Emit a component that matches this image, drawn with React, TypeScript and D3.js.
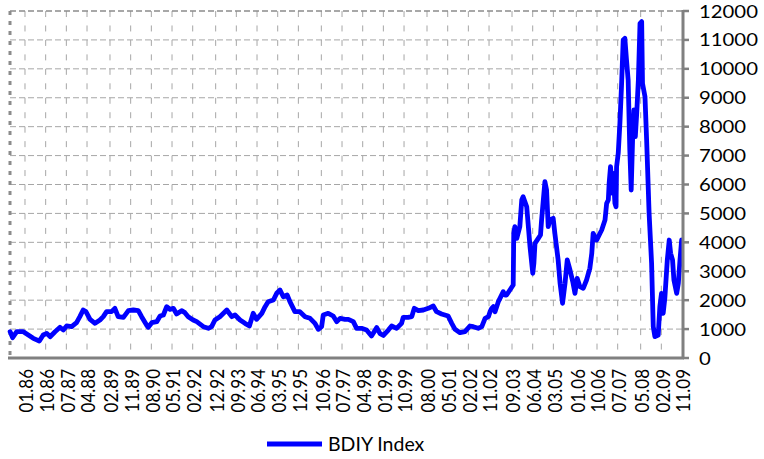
import React from "react";
import * as d3 from "d3";

// decimal year of each observation
const dates: number[] = [
  1985.46, 1985.55, 1985.70, 1985.94, 1986.12, 1986.30, 1986.52, 1986.66, 1986.79, 1986.91,
  1987.09, 1987.27, 1987.39, 1987.51, 1987.69, 1987.87, 1987.99, 1988.11, 1988.21, 1988.36,
  1988.54, 1988.72, 1988.84, 1988.96, 1989.14, 1989.26, 1989.38, 1989.57, 1989.75, 1989.93,
  1990.11, 1990.23, 1990.41, 1990.47, 1990.60, 1990.78, 1990.90, 1991.02, 1991.14, 1991.26,
  1991.38, 1991.50, 1991.68, 1991.80, 1991.92, 1992.10, 1992.23, 1992.47, 1992.65, 1992.77,
  1992.89, 1993.07, 1993.32, 1993.50, 1993.62, 1993.80, 1993.98, 1994.14, 1994.28, 1994.40,
  1994.59, 1994.71, 1994.82, 1995.01, 1995.13, 1995.25, 1995.37, 1995.51, 1995.61, 1995.79,
  1995.97, 1996.16, 1996.34, 1996.52, 1996.64, 1996.76, 1996.82, 1997.00, 1997.18, 1997.31,
  1997.43, 1997.61, 1997.73, 1997.91, 1998.03, 1998.21, 1998.39, 1998.57, 1998.76, 1998.88,
  1999.00, 1999.18, 1999.30, 1999.48, 1999.66, 1999.72, 1999.90, 2000.03, 2000.12, 2000.27,
  2000.45, 2000.63, 2000.81, 2000.93, 2001.11, 2001.35, 2001.48, 2001.60, 2001.78, 2001.96,
  2002.14, 2002.26, 2002.44, 2002.57, 2002.69, 2002.81, 2002.87, 2002.93, 2002.99, 2003.05,
  2003.17, 2003.23, 2003.35, 2003.41, 2003.47, 2003.59, 2003.71, 2003.73, 2003.77, 2003.84,
  2003.95, 2004.02, 2004.07, 2004.20, 2004.26, 2004.32, 2004.42, 2004.46, 2004.50, 2004.62,
  2004.70, 2004.74, 2004.86, 2004.92, 2004.98, 2005.04, 2005.16, 2005.22, 2005.34, 2005.41,
  2005.50, 2005.59, 2005.67, 2005.77, 2005.87, 2005.95, 2006.03, 2006.13, 2006.25, 2006.37,
  2006.49, 2006.56, 2006.61, 2006.74, 2006.86, 2006.92, 2007.04, 2007.10, 2007.16, 2007.19,
  2007.24, 2007.28, 2007.32, 2007.34, 2007.40, 2007.44, 2007.46, 2007.52, 2007.58, 2007.64,
  2007.70, 2007.76, 2007.82, 2007.88, 2007.94, 2007.99, 2008.04, 2008.09, 2008.14, 2008.19,
  2008.25, 2008.31, 2008.37, 2008.40, 2008.49, 2008.55, 2008.64, 2008.67, 2008.73, 2008.79,
  2008.85, 2008.97, 2009.03, 2009.09, 2009.15, 2009.21, 2009.30, 2009.37, 2009.42, 2009.49,
  2009.54, 2009.64, 2009.70, 2009.76, 2009.82,
];

// BDIY Index values
const values: number[] = [
  910, 703, 910, 910, 795, 680, 588, 795, 853, 737,
  910, 1061, 968, 1107, 1084, 1222, 1429, 1660, 1603, 1337,
  1199, 1314, 1429, 1603, 1603, 1718, 1429, 1406, 1637, 1660,
  1637, 1429, 1141, 1061, 1222, 1256, 1452, 1487, 1776, 1683,
  1718, 1522, 1637, 1568, 1429, 1314, 1256, 1084, 1026, 1084,
  1314, 1429, 1660, 1429, 1487, 1314, 1199, 1107, 1545, 1337,
  1545, 1776, 1948, 2006, 2237, 2351, 2120, 2178, 1948, 1602,
  1602, 1429, 1372, 1199, 992, 1084, 1487, 1545, 1452, 1256,
  1372, 1337, 1337, 1256, 1026, 1026, 968, 761, 1050, 840,
  780, 968, 1107, 1026, 1199, 1406, 1406, 1429, 1718, 1637,
  1660, 1718, 1798, 1602, 1522, 1452, 1199, 992, 876, 910,
  1107, 1084, 1026, 1084, 1372, 1429, 1602, 1718, 1776, 1602,
  1948, 2064, 2293, 2178, 2178, 2351, 2524, 4312, 4540, 4139,
  4540, 5464, 5578, 5232, 4540, 3849, 2929, 3275, 3966, 4139,
  4253, 4772, 6097, 5809, 4540, 4772, 4829, 4312, 3389, 2583,
  1891, 2583, 3389, 3043, 2640, 2237, 2756, 2466, 2410, 2697,
  3100, 3620, 4312, 4080, 4312, 4426, 4772, 5349, 5464, 6040,
  6615, 6155, 5695, 6387, 5349, 5232, 6615, 7078, 8115, 9440,
  10996, 11055, 10305, 9613, 7193, 5809, 7539, 8576, 7654, 8460,
  9613, 11574, 11632, 9499, 9037, 7539, 5004, 4426, 3275, 1084,
  737, 795, 1776, 2237, 1545, 2064, 3389, 4080, 3620, 3389,
  2697, 2237, 2583, 3389, 4080,
];

const xTickLabels: string[] = [
  "01.86", "10.86", "07.87", "04.88", "02.89", "11.89", "08.90", "05.91",
  "02.92", "12.92", "09.93", "06.94", "03.95", "12.95", "10.96", "07.97",
  "04.98", "01.99", "10.99", "08.00", "05.01", "02.02", "11.02", "09.03",
  "06.04", "03.05", "01.06", "10.06", "07.07", "05.08", "02.09", "11.09",
];

const yTicks: number[] = [0, 1000, 2000, 3000, 4000, 5000, 6000, 7000, 8000, 9000, 10000, 11000, 12000];

const seriesName = "BDIY Index";

function labelToYear(l: string): number {
  const [mm, yy] = l.split(".").map(Number);
  const year = yy >= 50 ? 1900 + yy : 2000 + yy;
  return year + (mm - 1) / 12;
}

export default function App() {
  const W = 764;
  const H = 459;
  const left = 10;
  const right = 682;
  const top = 11;
  const bottom = 358;

  const x = d3.scaleLinear().domain([1985.456, 2009.833]).range([left, right]);
  const y = d3.scaleLinear().domain([0, 12000]).range([bottom, top]);

  const pts: [number, number][] = dates.map((d, i) => [d, values[i]]);
  const line = d3
    .line<[number, number]>()
    .x((d) => x(d[0]))
    .y((d) => y(d[1]));

  const font = "Lato, 'Open Sans', sans-serif";
  const gridColor = "#a6a6a6";

  return (
    <svg
      width={W}
      height={H}
      style={{ position: "absolute", left: 0, top: 0, background: "#fff" }}
    >
      {/* horizontal gridlines */}
      {yTicks.slice(1, -1).map((t) => (
        <line
          key={"h" + t}
          x1={left}
          x2={right}
          y1={y(t)}
          y2={y(t)}
          stroke={gridColor}
          strokeWidth={1}
          strokeDasharray="6 3"
        />
      ))}
      {/* vertical gridlines */}
      {xTickLabels.slice(0, -1).map((l) => (
        <line
          key={"v" + l}
          x1={x(labelToYear(l))}
          x2={x(labelToYear(l))}
          y1={top}
          y2={bottom}
          stroke={gridColor}
          strokeWidth={1}
          strokeDasharray="6 8.46"
        />
      ))}
      {/* dashed top and left border */}
      <line x1={left} x2={right} y1={top} y2={top} stroke="#8c8c8c" strokeWidth={1.5} strokeDasharray="6 3" />
      <line x1={left} x2={left} y1={top} y2={bottom} stroke="#8c8c8c" strokeWidth={3} strokeDasharray="4 6" />

      {/* series */}
      <path
        d={line(pts) || ""}
        fill="none"
        stroke="#0000ff"
        strokeWidth={4.8}
        strokeLinejoin="round"
        strokeLinecap="round"
      />

      {/* bottom axis */}
      <line x1={left - 2} x2={right + 2} y1={bottom} y2={bottom} stroke="#808080" strokeWidth={3} />
      {/* right axis */}
      <line x1={right + 1} x2={right + 1} y1={top - 1} y2={bottom + 1} stroke="#808080" strokeWidth={3} />
      {yTicks.map((t) => (
        <g key={"yt" + t}>
          <line x1={right + 1} x2={right + 7} y1={y(t)} y2={y(t)} stroke="#808080" strokeWidth={2.5} />
          <text
            transform={`translate(${right + 17},${y(t) + 2}) scale(1.13,1)`}
            dominantBaseline="middle"
            fontFamily={font}
            fontSize={18}
            fill="#000"
          >
            {d3.format("d")(t)}
          </text>
        </g>
      ))}

      {/* x tick labels */}
      {xTickLabels.map((l) => {
        const px = x(labelToYear(l)) + 1.5;
        return (
          <text
            key={"xl" + l}
            transform={`translate(${px},369) scale(1.08,1) rotate(-90)`}
            textAnchor="end"
            dominantBaseline="central"
            fontFamily={font}
            fontSize={17}
            fill="#000"
          >
            {l}
          </text>
        );
      })}

      {/* legend */}
      <line x1={267} x2={322} y1={444} y2={444} stroke="#0000ff" strokeWidth={4.8} />
      <text x={328} y={451} fontFamily={font} fontSize={19.5} fill="#000">
        {seriesName}
      </text>
    </svg>
  );
}
